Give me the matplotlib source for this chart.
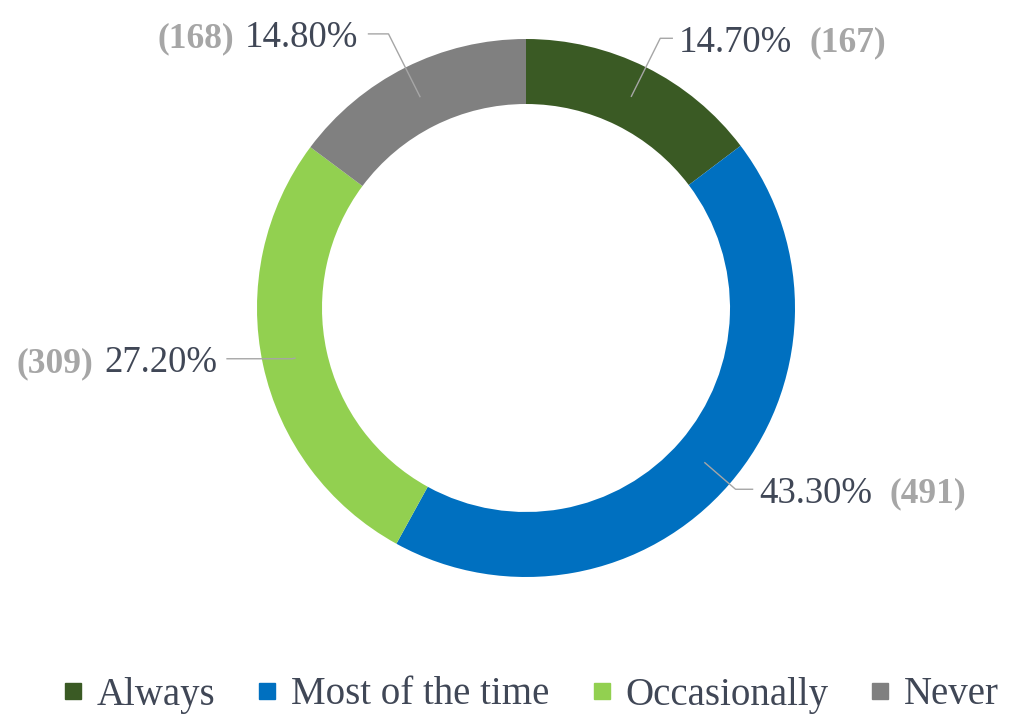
import numpy as np
import matplotlib.pyplot as plt
from matplotlib.lines import Line2D

# datos del gráfico
categorias = ['Always', 'Most of the time', 'Occasionally', 'Never']
porcentajes = [14.7, 43.3, 27.2, 14.8]
conteos = [167, 491, 309, 168]
colores = ['#3A5A24', '#0070C0', '#92D050', '#808080']

# disposición de las etiquetas: radio del codo (en R) y tramo horizontal (px)
radio_codo = [1.12, 1.03, 0.89, 1.14]
tramo = [12, 17, 65, 20]

plt.rcParams['font.family'] = ['Liberation Serif', 'DejaVu Serif']

W, H = 1017, 716
fig = plt.figure(figsize=(W / 100, H / 100), dpi=100)
ax = fig.add_axes([0, 0, 1, 1])

cx, cy, R, anillo = 526, H - 308, 269, 65
wedges, _ = ax.pie(porcentajes, colors=colores, startangle=90, counterclock=False,
                   center=(cx, cy), radius=R,
                   wedgeprops=dict(width=anillo, linewidth=0))
ax.set_xlim(0, W)
ax.set_ylim(0, H)
ax.set_aspect('auto')
ax.axis('off')

color_pct = '#404756'
color_cnt = '#A6A6A6'
fs = 26.5

for w, pct, n, rc, t in zip(wedges, porcentajes, conteos, radio_codo, tramo):
    ang = np.deg2rad((w.theta1 + w.theta2) / 2)
    r0 = R - anillo / 2
    x0, y0 = cx + r0 * np.cos(ang), cy + r0 * np.sin(ang)
    x1, y1 = cx + rc * R * np.cos(ang), cy + rc * R * np.sin(ang)
    lado = 1 if np.cos(ang) > 0 else -1
    x2 = x1 + lado * t
    ax.plot([x0, x1, x2], [y0, y1, y1], color='#A6A6A6', lw=1)
    ty = y1 - 4
    if lado > 0:
        t1 = ax.text(x2 + 7, ty, f'{pct:.2f}%', ha='left', va='center',
                     color=color_pct, fontsize=fs)
        ax.annotate(f'({n})', xy=(1, 0), xycoords=t1, xytext=(12, 0),
                    textcoords='offset points', ha='left', va='bottom',
                    color=color_cnt, fontsize=fs - 1, fontweight='bold')
    else:
        t1 = ax.text(x2 - 10, ty, f'{pct:.2f}%', ha='right', va='center',
                     color=color_pct, fontsize=fs)
        ax.annotate(f'({n})', xy=(0, 0), xycoords=t1, xytext=(-8, 0),
                    textcoords='offset points', ha='right', va='bottom',
                    color=color_cnt, fontsize=fs - 1, fontweight='bold')

handles = [Line2D([], [], marker='s', linestyle='', markersize=11, color=c)
           for c in colores]
fig.legend(handles, categorias, loc='center', bbox_to_anchor=(530 / W, 1 - 695 / H),
           ncol=4, frameon=False, fontsize=28, handlelength=0.6,
           handletextpad=0.3, columnspacing=1.05, labelcolor=color_pct)

fig.savefig('out.png', dpi=100)
